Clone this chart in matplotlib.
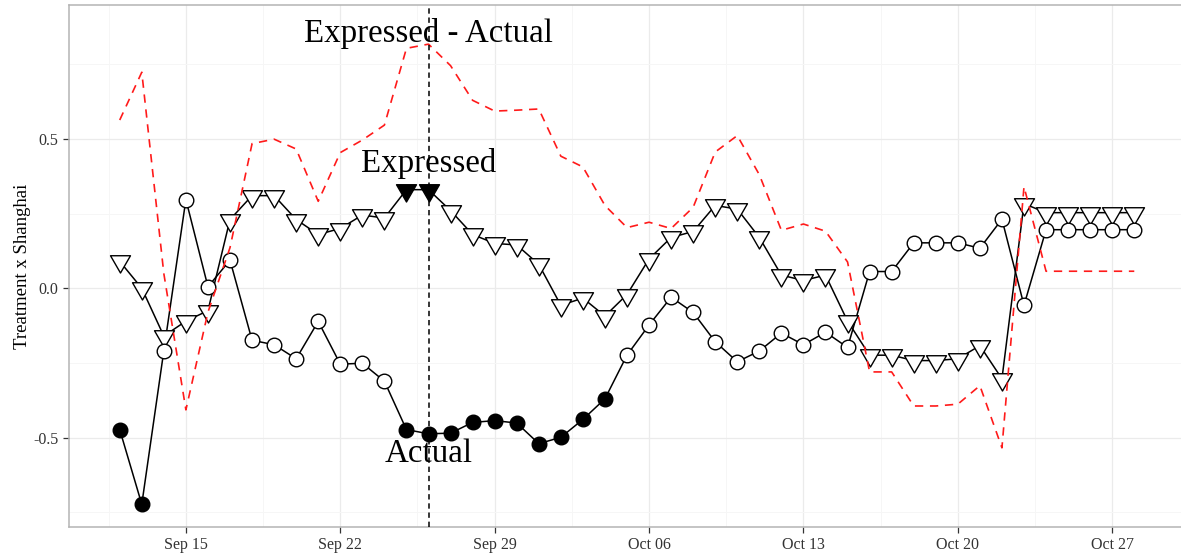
import numpy as np
import pandas as pd
import matplotlib
matplotlib.use('Agg')
import matplotlib.pyplot as plt
import matplotlib.dates as mdates
from matplotlib.path import Path
from matplotlib.ticker import FixedLocator, FormatStrFormatter

plt.rcParams['font.family'] = ['Liberation Serif', 'DejaVu Serif']
plt.rcParams['axes.unicode_minus'] = False

# daily coefficients, Sep 12 - Oct 28
days = pd.date_range('2013-09-12', '2013-10-28', freq='D')

expressed = [0.09, 0.00, -0.16, -0.11, -0.075, 0.23, 0.31, 0.31, 0.23, 0.18,
             0.20, 0.245, 0.235, 0.33, 0.33, 0.26, 0.18, 0.15, 0.145, 0.08,
             -0.057, -0.033, -0.093, -0.021, 0.098, 0.17, 0.19, 0.277, 0.265, 0.17,
             0.044, 0.026, 0.044, -0.11, -0.224, -0.224, -0.242, -0.242, -0.236, -0.192,
             -0.303, 0.283, 0.253, 0.253, 0.253, 0.253, 0.253]

actual = [-0.473, -0.723, -0.209, 0.297, 0.005, 0.094, -0.174, -0.189, -0.236, -0.111,
          -0.254, -0.251, -0.311, -0.473, -0.487, -0.485, -0.449, -0.443, -0.451, -0.52,
          -0.499, -0.439, -0.37, -0.224, -0.123, -0.03, -0.081, -0.179, -0.246, -0.21,
          -0.15, -0.189, -0.147, -0.198, 0.056, 0.056, 0.152, 0.152, 0.152, 0.134,
          0.231, -0.057, 0.196, 0.196, 0.196, 0.196, 0.196]

difference = [0.563, 0.723, 0.049, -0.407, -0.08, 0.136, 0.484, 0.499, 0.466, 0.291,
              0.454, 0.496, 0.546, 0.803, 0.817, 0.745, 0.629, 0.593, 0.596, 0.60,
              0.442, 0.406, 0.277, 0.203, 0.221, 0.20, 0.271, 0.456, 0.511, 0.38,
              0.194, 0.215, 0.191, 0.088, -0.28, -0.28, -0.394, -0.394, -0.388, -0.326,
              -0.534, 0.34, 0.057, 0.057, 0.057, 0.057, 0.057]

# significant days get filled markers
expressed_sig = ['2013-09-25', '2013-09-26']
actual_sig = ['2013-09-12', '2013-09-13', '2013-09-25', '2013-09-26', '2013-09-27',
              '2013-09-28', '2013-09-29', '2013-09-30', '2013-10-01', '2013-10-02',
              '2013-10-03', '2013-10-04']

event_day = '2013-09-26'
major_days = ['2013-09-15', '2013-09-22', '2013-09-29', '2013-10-06',
              '2013-10-13', '2013-10-20', '2013-10-27']

# triangle with centroid at the data point (like R pch 25)
tri_down = Path([(0, -1), (-0.866, 0.5), (0.866, 0.5), (0, -1)],
                [Path.MOVETO, Path.LINETO, Path.LINETO, Path.CLOSEPOLY])

expressed = np.array(expressed)
actual = np.array(actual)
exp_fill = np.isin(days, pd.to_datetime(expressed_sig))
act_fill = np.isin(days, pd.to_datetime(actual_sig))

fig = plt.figure(figsize=(11.81, 5.58), dpi=100)
ax = fig.add_axes([69 / 1181, 31 / 558, 1116 / 1181, 522 / 558])

x0 = days[0] - pd.Timedelta(days=2.3)
x1 = days[-1] + pd.Timedelta(days=2.3)
ax.set_xlim(x0, x1)
ax.set_ylim(-0.799, 0.948)

# grid like theme_bw
majors = pd.to_datetime(major_days)
minors = list(majors - pd.Timedelta(hours=84)) + [majors[-1] + pd.Timedelta(hours=84)]
ax.xaxis.set_major_locator(FixedLocator(mdates.date2num(majors)))
ax.xaxis.set_minor_locator(FixedLocator(mdates.date2num(minors)))
ax.xaxis.set_major_formatter(mdates.DateFormatter('%b %d'))
ax.yaxis.set_major_locator(FixedLocator([-0.5, 0.0, 0.5]))
ax.yaxis.set_minor_locator(FixedLocator([-0.75, -0.25, 0.25, 0.75]))
ax.yaxis.set_major_formatter(FormatStrFormatter('%.1f'))
ax.grid(True, which='major', color='#ebebeb', lw=0.9, zorder=0)
ax.grid(True, which='minor', color='#f6f6f6', lw=0.7, zorder=0)
ax.set_axisbelow(True)

ax.tick_params(which='major', length=4.5, width=0.9, color='#333333',
               labelsize=11.5, labelcolor='#333333', pad=3)
ax.tick_params(which='minor', length=0)
for s in ax.spines.values():
    s.set_color('#b4b4b4')
    s.set_linewidth(1.1)
ax.spines['right'].set_visible(False)

ax.set_ylabel('Treatment x Shanghai', fontsize=13.5, labelpad=2)

# lines
ax.plot(days, expressed, color='black', lw=1.1, zorder=2)
ax.plot(days, actual, color='black', lw=1.1, zorder=2)

# markers
ax.scatter(days[~exp_fill], expressed[~exp_fill], marker=tri_down, s=16.6 ** 2,
           facecolor='white', edgecolor='black', linewidths=1.0, zorder=3)
ax.scatter(days[exp_fill], expressed[exp_fill], marker=tri_down, s=16.6 ** 2,
           facecolor='black', edgecolor='black', linewidths=1.0, zorder=3)
ax.scatter(days[~act_fill], actual[~act_fill], marker='o', s=10.5 ** 2,
           facecolor='white', edgecolor='black', linewidths=1.0, zorder=3)
ax.scatter(days[act_fill], actual[act_fill], marker='o', s=10.5 ** 2,
           facecolor='black', edgecolor='black', linewidths=1.0, zorder=3)

ax.plot(days, difference, color='#ff1a1a', lw=1.2, dashes=(5, 4), zorder=4)

ev = pd.Timestamp(event_day)
ax.axvline(ev, color='black', lw=1.1, dashes=(3.5, 2.5), zorder=5)

ax.text(ev, 0.824, 'Expressed - Actual', fontsize=23.7, ha='center', va='baseline', zorder=6)
ax.text(ev, 0.389, 'Expressed', fontsize=23.7, ha='center', va='baseline', zorder=6)
ax.text(ev, -0.581, 'Actual', fontsize=23.7, ha='center', va='baseline', zorder=6)

fig.savefig('out.png', dpi=100)
